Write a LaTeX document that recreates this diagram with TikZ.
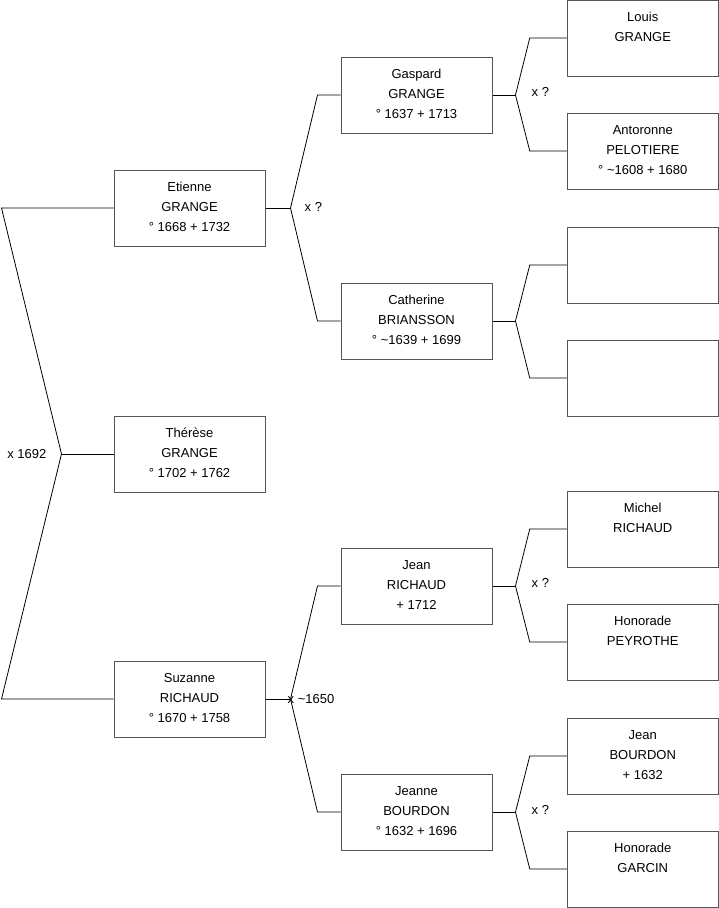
\documentclass[tikz,border=0pt]{standalone}
\usepackage{fontspec}
\setmainfont{Liberation Sans}
\usetikzlibrary{positioning,calc}
\definecolor{boxGray}{HTML}{555555}
\newcommand{\card}[1]{\parbox[c][76pt][t]{151pt}{\fontsize{13}{20}\selectfont\centering\rule{0pt}{21.5pt}#1}}

\begin{document}
\begin{tikzpicture}[x=1pt,y=-1pt,font=\fontsize{13}{15}\selectfont,
  pers/.style={draw=boxGray,line width=1pt,minimum width=151pt,minimum height=76pt,inner sep=0pt},
  link/.style={draw=black,line width=0.8pt},
  union/.style={inner sep=0pt}]
\useasboundingbox (0,0) rectangle (719,908);
% --- generation 1 ---
\node[pers] (etienne) at (189.5,208) {\card{Etienne\\GRANGE\\° 1668 + 1732}};
\node[pers] (therese) at (189.5,454) {\card{Thérèse\\GRANGE\\° 1702 + 1762}};
\node[pers] (suzanne) at (189.5,699) {\card{Suzanne\\RICHAUD\\° 1670 + 1758}};
% --- generation 2 ---
\node[pers] (gaspard) at (416.5,95) {\card{Gaspard\\GRANGE\\° 1637 + 1713}};
\node[pers] (catherine) at (416.5,321) {\card{Catherine\\BRIANSSON\\° \textasciitilde1639 + 1699}};
\node[pers] (jeanr) at (416.5,586) {\card{Jean\\RICHAUD\\+ 1712}};
\node[pers] (jeanne) at (416.5,812) {\card{Jeanne\\BOURDON\\° 1632 + 1696}};
% --- generation 3 ---
\node[pers] (louis) at (642.75,38) {\card{Louis\\GRANGE}};
\node[pers] (antoronne) at (642.75,151) {\card{Antoronne\\PELOTIERE\\° \textasciitilde1608 + 1680}};
\node[pers] (unk1) at (642.75,265) {\card{}};
\node[pers] (unk2) at (642.75,378) {\card{}};
\node[pers] (michel) at (642.75,529) {\card{Michel\\RICHAUD}};
\node[pers] (honorade) at (642.75,642) {\card{Honorade\\PEYROTHE}};
\node[pers] (jeanb) at (642.75,756) {\card{Jean\\BOURDON\\+ 1632}};
\node[pers] (garcin) at (642.75,869) {\card{Honorade\\GARCIN}};

% forks
\coordinate (f0) at ([xshift=-52pt]therese.west);
\draw[link] (etienne.west) -- ([xshift=-112pt]etienne.west) -- (f0)
  -- ([xshift=-112pt]suzanne.west) -- (suzanne.west);
\draw[link] (f0) -- (therese.west);
\node[union,anchor=east] (u0) at ([xshift=-15pt]f0) {x 1692};

\coordinate (f1) at ([xshift=25pt]etienne.east);
\draw[link] (etienne.east) -- (f1);
\draw[link] (gaspard.west) -- ([xshift=-23pt]gaspard.west) -- (f1)
  -- ([xshift=-23pt]catherine.west) -- (catherine.west);
\node[union,anchor=west] (u1) at ([xshift=14pt,yshift=1pt]f1) {x ?};

\coordinate (f2) at ([xshift=25pt]suzanne.east);
\draw[link] (suzanne.east) -- (f2);
\draw[link] (jeanr.west) -- ([xshift=-23pt]jeanr.west) -- (f2)
  -- ([xshift=-23pt]jeanne.west) -- (jeanne.west);
\node[union,anchor=west] (u2) at ([xshift=-3pt]f2) {x \textasciitilde1650};

\coordinate (f3) at ([xshift=23pt]gaspard.east);
\draw[link] (gaspard.east) -- (f3);
\draw[link] (louis.west) -- ([xshift=-37pt]louis.west) -- (f3)
  -- ([xshift=-37pt]antoronne.west) -- (antoronne.west);
\node[union,anchor=west] (u3) at ([xshift=16pt,yshift=3pt]f3) {x ?};

\coordinate (f4) at ([xshift=23pt]catherine.east);
\draw[link] (catherine.east) -- (f4);
\draw[link] (unk1.west) -- ([xshift=-37pt]unk1.west) -- (f4)
  -- ([xshift=-37pt]unk2.west) -- (unk2.west);

\coordinate (f5) at ([xshift=23pt]jeanr.east);
\draw[link] (jeanr.east) -- (f5);
\draw[link] (michel.west) -- ([xshift=-37pt]michel.west) -- (f5)
  -- ([xshift=-37pt]honorade.west) -- (honorade.west);
\node[union,anchor=west] (u5) at ([xshift=16pt,yshift=3pt]f5) {x ?};

\coordinate (f6) at ([xshift=23pt]jeanne.east);
\draw[link] (jeanne.east) -- (f6);
\draw[link] (jeanb.west) -- ([xshift=-37pt]jeanb.west) -- (f6)
  -- ([xshift=-37pt]garcin.west) -- (garcin.west);
\node[union,anchor=west] (u6) at ([xshift=16pt,yshift=2pt]f6) {x ?};
\end{tikzpicture}
\end{document}
